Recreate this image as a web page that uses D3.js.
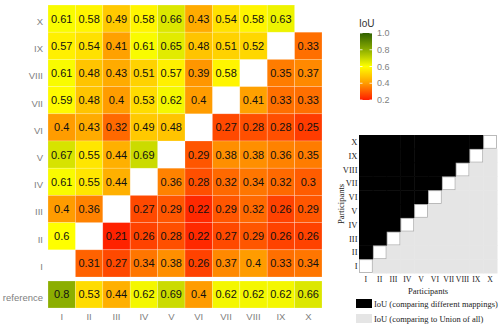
<!DOCTYPE html>
<html><head><meta charset="utf-8">
<script src="https://cdn.jsdelivr.net/npm/d3@7"></script>
<style>body{margin:0;background:#fff}svg{display:block}</style>
</head><body>
<svg id="c" width="500" height="326"></svg>
<script>
const cols = ["I","II","III","IV","V","VI","VII","VIII","IX","X"];
const rows = ["X","IX","VIII","VII","VI","V","IV","III","II","I"];
// values per row (top to bottom), null = diagonal
const valX    = [0.61,0.58,0.49,0.58,0.66,0.43,0.54,0.58,0.63,null];
const valIX   = [0.57,0.54,0.41,0.61,0.65,0.48,0.51,0.52,null,0.33];
const valVIII = [0.61,0.48,0.43,0.51,0.57,0.39,0.58,null,0.35,0.37];
const valVII  = [0.59,0.48,0.4,0.53,0.62,0.4,null,0.41,0.33,0.33];
const valVI   = [0.4,0.43,0.32,0.49,0.48,null,0.27,0.28,0.28,0.25];
const valV    = [0.67,0.55,0.44,0.69,null,0.29,0.38,0.38,0.36,0.35];
const valIV   = [0.61,0.55,0.44,null,0.36,0.28,0.32,0.34,0.32,0.3];
const valIII  = [0.4,0.36,null,0.27,0.29,0.22,0.29,0.32,0.26,0.29];
const valII   = [0.6,null,0.21,0.26,0.28,0.22,0.27,0.29,0.26,0.26];
const valI    = [null,0.31,0.27,0.34,0.38,0.26,0.37,0.4,0.33,0.34];
const valRef  = [0.8,0.53,0.44,0.62,0.69,0.4,0.62,0.62,0.62,0.66];
const legendTicks = [0.2,0.4,0.6,0.8,1.0];
const insetLegend = ["IoU (comparing different mappings)","IoU (comparing to Union of all)"];

const matrix = [valX,valIX,valVIII,valVII,valVI,valV,valIV,valIII,valII,valI];

const svg = d3.select("#c");
const color = d3.scaleLinear()
  .domain([0.2,0.4,0.6,0.8,1.0])
  .range(["#ff1c00","#ff9c00","#ffff00","#8cae00","#2f6000"]);

const x = d3.scaleBand().domain(cols).range([48,322]);
const y = d3.scaleBand().domain(rows).range([5,277]);
const yRef = d3.scaleBand().domain(["reference"]).range([281,308]);

const cells = [];
matrix.forEach((r,i)=>r.forEach((v,j)=>{ if(v!==null) cells.push({row:rows[i],col:cols[j],v}); }));

const g = svg.append("g");
g.selectAll("rect.c").data(cells).enter().append("rect")
  .attr("x",d=>x(d.col)).attr("y",d=>y(d.row))
  .attr("width",x.bandwidth()).attr("height",y.bandwidth())
  .attr("fill",d=>color(d.v))
  .attr("stroke","rgba(255,255,255,0.35)").attr("stroke-width",0.6);
g.selectAll("text.c").data(cells).enter().append("text")
  .attr("x",d=>x(d.col)+x.bandwidth()/2).attr("y",d=>y(d.row)+y.bandwidth()/2)
  .attr("dy","0.36em").attr("text-anchor","middle")
  .attr("font-family","Liberation Sans, Arial, sans-serif").attr("font-size",11)
  .attr("fill","#111").text(d=>String(d.v));

const refCells = valRef.map((v,j)=>({col:cols[j],v}));
g.selectAll("rect.r").data(refCells).enter().append("rect")
  .attr("x",d=>x(d.col)).attr("y",yRef("reference"))
  .attr("width",x.bandwidth()).attr("height",yRef.bandwidth())
  .attr("fill",d=>color(d.v))
  .attr("stroke","rgba(255,255,255,0.35)").attr("stroke-width",0.6);
g.selectAll("text.r").data(refCells).enter().append("text")
  .attr("x",d=>x(d.col)+x.bandwidth()/2).attr("y",yRef("reference")+yRef.bandwidth()/2)
  .attr("dy","0.36em").attr("text-anchor","middle")
  .attr("font-family","Liberation Sans, Arial, sans-serif").attr("font-size",11)
  .attr("fill","#111").text(d=>String(d.v));

// axes
const axFont = "Liberation Sans, Arial, sans-serif";
g.selectAll("text.yl").data(rows).enter().append("text")
  .attr("x",43).attr("y",d=>y(d)+y.bandwidth()/2+3).attr("dy","0.36em")
  .attr("text-anchor","end").attr("font-family",axFont).attr("font-size",9.5)
  .attr("fill","#808080").text(d=>d);
g.append("text").attr("x",43).attr("y",yRef("reference")+yRef.bandwidth()/2+3).attr("dy","0.36em")
  .attr("text-anchor","end").attr("font-family",axFont).attr("font-size",9.5)
  .attr("fill","#808080").text("reference");
g.selectAll("text.xl").data(cols).enter().append("text")
  .attr("x",d=>x(d)+x.bandwidth()/2).attr("y",317).attr("dy","0.36em")
  .attr("text-anchor","middle").attr("font-family",axFont).attr("font-size",9.5)
  .attr("fill","#808080").text(d=>d);

// color legend
const defs = svg.append("defs");
const grad = defs.append("linearGradient").attr("id","gr").attr("x1",0).attr("y1",1).attr("x2",0).attr("y2",0);
d3.range(0,1.0001,0.05).forEach(t=>{
  grad.append("stop").attr("offset",t).attr("stop-color",color(0.2+0.8*t));
});
const ly = d3.scaleLinear().domain([0.2,1.0]).range([100,33]);
svg.append("text").attr("x",359).attr("y",27).attr("font-family",axFont).attr("font-size",10)
  .attr("fill","#333").text("IoU");
svg.append("rect").attr("x",360).attr("y",ly(1.0)).attr("width",12).attr("height",ly(0.2)-ly(1.0))
  .attr("fill","url(#gr)");
legendTicks.forEach(t=>{
  svg.append("line").attr("x1",360).attr("x2",362.5).attr("y1",ly(t)).attr("y2",ly(t)).attr("stroke","#fff").attr("stroke-width",0.8);
  svg.append("line").attr("x1",369.5).attr("x2",372).attr("y1",ly(t)).attr("y2",ly(t)).attr("stroke","#fff").attr("stroke-width",0.8);
  svg.append("text").attr("x",377).attr("y",ly(t)).attr("dy","0.36em").attr("font-family",axFont)
    .attr("font-size",9).attr("fill","#808080").text(t.toFixed(1));
});

// inset diagram
const serif = "Liberation Serif, Times New Roman, serif";
const ix = d3.scaleBand().domain(cols).range([359,497]);
const iy = d3.scaleBand().domain(rows).range([135,273]);
const inset = svg.append("g");
const icells = [];
rows.forEach(r=>cols.forEach(c=>{
  const ri = cols.indexOf(r), ci = cols.indexOf(c);
  icells.push({r,c,t: ri>ci?"b":(ri<ci?"g":"w")});
}));
inset.selectAll("rect.b").data(icells.filter(d=>d.t!=="w")).enter().append("rect")
  .attr("x",d=>ix(d.c)).attr("y",d=>iy(d.r)).attr("width",ix.bandwidth()+0.5).attr("height",iy.bandwidth()+0.5)
  .attr("fill",d=>d.t==="b"?"#000":"#e5e5e5");
inset.selectAll("rect.w").data(icells.filter(d=>d.t==="w")).enter().append("rect")
  .attr("x",d=>ix(d.c)+0.5).attr("y",d=>iy(d.r)+0.5).attr("width",ix.bandwidth()-1).attr("height",iy.bandwidth()-1)
  .attr("fill","#fff").attr("stroke","#aaa").attr("stroke-width",0.8);
inset.selectAll("text.yl").data(rows).enter().append("text")
  .attr("x",357.5).attr("y",d=>iy(d)+iy.bandwidth()/2).attr("dy","0.36em").attr("text-anchor","end")
  .attr("font-family",serif).attr("font-size",8.5).attr("fill","#222").text(d=>d);
inset.selectAll("text.xl").data(cols).enter().append("text")
  .attr("x",d=>ix(d)+ix.bandwidth()/2).attr("y",279).attr("dy","0.36em").attr("text-anchor","middle")
  .attr("font-family",serif).attr("font-size",7.8).attr("fill","#222").text(d=>d);
inset.append("text").attr("x",428).attr("y",291).attr("dy","0.36em").attr("text-anchor","middle")
  .attr("font-family",serif).attr("font-size",8.5).attr("fill","#222").text("Participants");
inset.append("text").attr("transform","translate(341,204) rotate(-90)").attr("dy","0.36em").attr("text-anchor","middle")
  .attr("font-family",serif).attr("font-size",8.5).attr("fill","#222").text("Participants");
const lfill = ["#000","#e5e5e5"];
insetLegend.forEach((t,i)=>{
  inset.append("rect").attr("x",356).attr("y",299+i*15).attr("width",16).attr("height",9).attr("fill",lfill[i]);
  inset.append("text").attr("x",374).attr("y",303.5+i*15).attr("dy","0.36em")
    .attr("font-family",serif).attr("font-size",8.5).attr("fill","#222").text(t);
});
</script>
</body></html>
